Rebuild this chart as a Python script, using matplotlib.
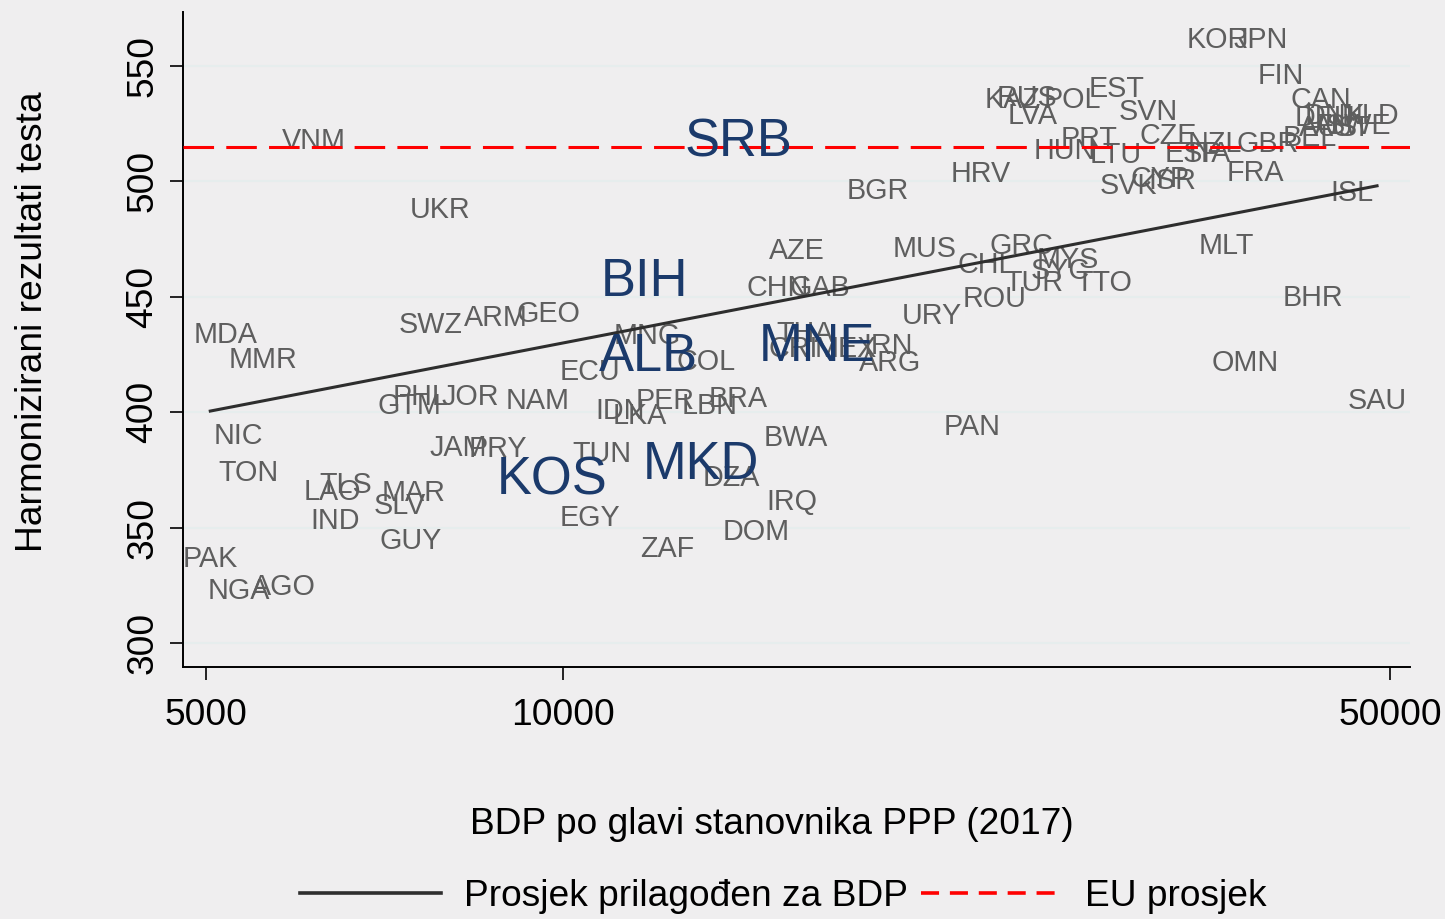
"""
Harmonizirani rezultati testa vs. BDP po glavi stanovnika (PPP, 2017).
Scatter of country codes on a log x axis, with fitted line and EU average.
"""
import matplotlib
matplotlib.use("Agg")
import matplotlib.pyplot as plt
from matplotlib.lines import Line2D
from matplotlib.ticker import FixedLocator, NullLocator
from matplotlib.transforms import offset_copy

# ---- data -------------------------------------------------------------
codes = ["VNM", "UKR", "MDA", "MMR", "SWZ", "ARM", "GEO", "MNG", "ECU", "COL",
         "PHL", "JOR", "GTM", "NAM", "IDN", "LKA", "PER", "LBN", "BRA", "NIC",
         "TON", "JAM", "PRY", "TUN", "TLS", "LAO", "MAR", "SLV", "IND", "GUY",
         "EGY", "ZAF", "DOM", "IRQ", "DZA", "BWA", "PAK", "NGA", "AGO", "AZE",
         "CHN", "GAB", "MUS", "GRC", "CHL", "MYS", "SYC", "TUR", "TTO", "ROU",
         "URY", "THA", "CRI", "MEX", "IRN", "ARG", "BGR", "HRV", "HUN", "PRT",
         "LTU", "SVK", "CYP", "ISR", "EST", "SVN", "KAZ", "RUS", "POL", "LVA",
         "CZE", "ESP", "ITA", "NZL", "GBR", "FRA", "BEL", "CAN", "DNK", "NLD",
         "DEU", "AUS", "AUT", "SWE", "FIN", "KOR", "JPN", "ISL", "MLT", "BHR",
         "OMN", "SAU", "PAN"]
gdp = [6170, 7880, 5190, 5585, 7730, 8790, 9724, 11790, 10550, 13220,
       7580, 8355, 7420, 9535, 11190, 11630, 12210, 13320, 14070, 5320,
       5425, 8165, 8825, 10800, 6565, 6390, 7480, 7290, 6425, 7435,
       10550, 12255, 14570, 15620, 13880, 15740, 5040, 5330, 5820, 15780,
       15200, 16500, 20240, 24400, 22800, 26730, 26320, 25030, 28660, 23190,
       20520, 16030, 15650, 17330, 18840, 18900, 18470, 22570, 26570, 27840,
       29350, 30040, 31970, 32720, 29350, 31230, 23970, 24680, 26940, 24970,
       32470, 34090, 35230, 35580, 39440, 38450, 42790, 43720, 44920, 48090,
       44060, 44320, 45550, 46990, 40440, 35790, 38840, 46440, 36350, 43040,
       37720, 48750, 22180]
score = [518.8, 488.9, 434.7, 423.9, 439.1, 442.1, 443.8, 434.3, 418.7, 423.1,
         407.9, 407.9, 404.0, 406.2, 401.8, 399.7, 406.2, 404.0, 407.0, 391.0,
         375.0, 385.8, 385.4, 383.2, 369.8, 366.7, 366.3, 360.7, 354.2, 345.5,
         355.5, 342.0, 349.4, 362.4, 372.8, 390.1, 337.7, 323.8, 325.6, 471.1,
         455.1, 455.1, 472.0, 473.3, 465.1, 467.2, 462.5, 457.3, 457.3, 450.3,
         443.0, 435.2, 428.7, 428.7, 430.0, 422.6, 497.1, 504.5, 514.5, 519.7,
         512.7, 499.3, 502.3, 501.5, 541.3, 531.4, 536.6, 537.4, 536.6, 529.6,
         521.0, 513.2, 513.2, 517.5, 517.5, 504.9, 520.1, 536.6, 529.6, 529.6,
         528.8, 524.4, 524.4, 525.3, 547.0, 562.6, 562.6, 496.3, 473.3, 450.8,
         422.6, 406.2, 394.9]

# Western Balkans, highlighted
wb_codes = ["SRB", "BIH", "ALB", "MNE", "KOS", "MKD"]
wb_gdp = [14070, 11720, 11810, 16410, 9800, 13090]
wb_score = [518.8, 458.6, 426.1, 430.4, 372.4, 379.3]

# fitted line (values at the lowest and highest GDP) and EU average
fit_score = [400.5, 498.1]
eu_avg = 515

x_ticks = [5000, 10000, 50000]
y_ticks = [300, 350, 400, 450, 500, 550]

# ---- style ------------------------------------------------------------
plt.rcParams["font.family"] = ["Liberation Sans", "DejaVu Sans"]
bg = "#efeeef"
gray = "#5e5e5e"
navy = "#1b3a6b"
fit_color = "#2e2e2e"
eu_color = "#ff0000"

fig = plt.figure(figsize=(14.45, 9.19), dpi=100, facecolor=bg)
ax = fig.add_axes([0.1266, 0.2742, 0.8492, 0.7127], facecolor=bg)

ax.set_xscale("log")
ax.set_xlim(4779, 51980)
ax.set_ylim(289.6, 573.4)

# gridlines and reference lines
ax.grid(axis="y", color="#e6eded", linewidth=1.5)
ax.set_axisbelow(True)
fit_x = [min(gdp + wb_gdp), max(gdp + wb_gdp)]
ax.plot(fit_x, fit_score, color=fit_color, linewidth=2.2, zorder=3)
ax.axhline(eu_avg, color=eu_color, linewidth=2.2, dashes=(10, 4), zorder=3)

# country labels (nudged down a little so the capitals sit on the point)
gray_tr = offset_copy(ax.transData, fig=fig, y=-2.2, units="points")
navy_tr = offset_copy(ax.transData, fig=fig, y=-3.5, units="points")
for c, x, y in zip(codes, gdp, score):
    ax.text(x, y, c, ha="center", va="center", fontsize=20.7, color=gray,
            transform=gray_tr, zorder=2)
for c, x, y in zip(wb_codes, wb_gdp, wb_score):
    ax.text(x, y, c, ha="center", va="center", fontsize=37.8, color=navy,
            transform=navy_tr, zorder=4)

# axes
for side in ["top", "right"]:
    ax.spines[side].set_visible(False)
for side in ["left", "bottom"]:
    ax.spines[side].set_linewidth(1.4)
ax.xaxis.set_major_locator(FixedLocator(x_ticks))
ax.xaxis.set_minor_locator(NullLocator())
ax.set_xticklabels([str(t) for t in x_ticks])
ax.set_yticks(y_ticks)
ax.set_yticklabels([str(t) for t in y_ticks], rotation=90, va="center")
ax.tick_params(axis="x", length=9.4, width=1.2, labelsize=26.7, pad=13)
ax.tick_params(axis="y", length=9.4, width=1.2, labelsize=26.7, pad=7)

ax.set_xlabel("BDP po glavi stanovnika PPP (2017)", fontsize=26.7)
ax.xaxis.set_label_coords(0.48, -0.241)
ax.xaxis.label.set_va("center")
ax.set_ylabel("Harmonizirani rezultati testa", fontsize=26.7)
ax.yaxis.set_label_coords(-0.123, 0.527)
ax.yaxis.label.set_va("center")

# legend below the plot; the dashed sample uses a shorter dash
handles = [Line2D([], [], color=fit_color, linewidth=2.6),
           Line2D([], [], color=eu_color, linewidth=2.6, dashes=(5, 3))]
labels = ["Prosjek prilagođen za BDP", "EU prosjek"]
fig.legend(handles, labels, loc="center", bbox_to_anchor=(0.542, 0.0245),
           ncol=2, frameon=False, fontsize=26.7, handlelength=3.8,
           handletextpad=0.63, columnspacing=0.35, borderaxespad=0)

fig.savefig("out.png", dpi=100, facecolor=bg)
